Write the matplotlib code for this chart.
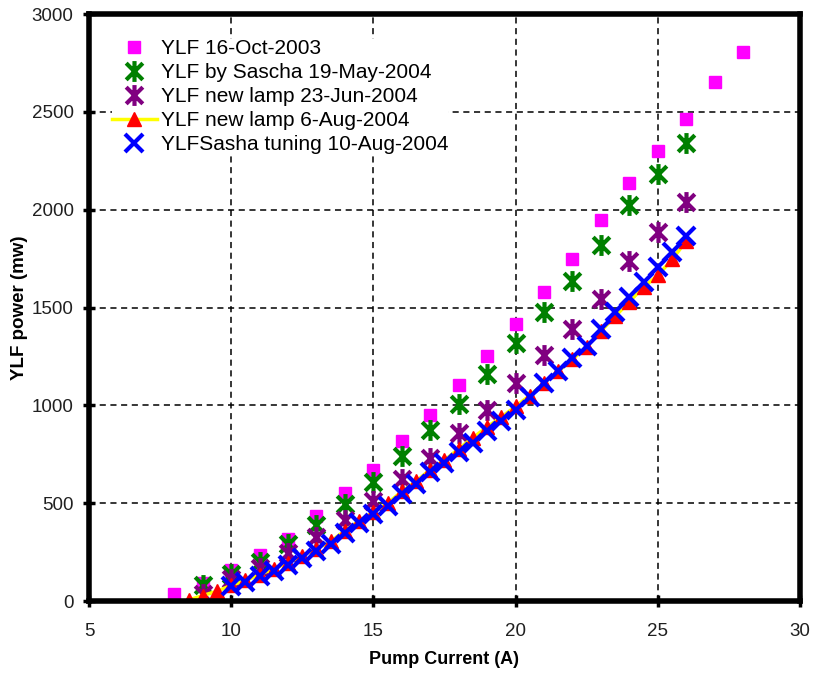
import numpy as np
import matplotlib
matplotlib.use("Agg")
import matplotlib.pyplot as plt
from matplotlib.path import Path

plt.rcParams["font.family"] = ["Liberation Sans", "DejaVu Sans"]

# YLF 16-Oct-2003
x_oct = [8, 9, 10, 11, 12, 13, 14, 15, 16, 17, 18, 19, 20, 21, 22, 23, 24, 25, 26, 27, 28]
p_oct = [35, 92, 158, 235, 318, 432, 552, 672, 819, 952, 1104, 1250, 1418, 1582, 1746, 1946,
         2135, 2299, 2463, 2652, 2806]

# YLF by Sascha 19-May-2004
x_may = [9, 10, 11, 12, 13, 14, 15, 16, 17, 18, 19, 20, 21, 22, 23, 24, 25, 26]
p_may = [80, 138, 200, 292, 386, 494, 610, 742, 873, 1006, 1162, 1317, 1476, 1638, 1818,
         2022, 2181, 2343]

# YLF new lamp 23-Jun-2004
x_jun = [9, 10, 11, 12, 13, 14, 15, 16, 17, 18, 19, 20, 21, 22, 23, 24, 25, 26]
p_jun = [37, 110, 170, 247, 328, 414, 512, 622, 730, 858, 978, 1115, 1258, 1393, 1546,
         1737, 1884, 2040]

# YLF new lamp 6-Aug-2004
x_aug6 = [8.5, 9, 9.5, 10, 10.5, 11, 11.5, 12, 12.5, 13, 13.5, 14, 14.5, 15, 15.5, 16, 16.5,
          17, 17.5, 18, 18.5, 19, 19.5, 20, 20.5, 21, 21.5, 22, 22.5, 23, 23.5, 24, 24.5,
          25, 25.5, 26]
p_aug6 = [5, 28, 50, 80, 105, 135, 165, 195, 232, 268, 305, 360, 410, 455, 500, 560, 612,
          672, 720, 778, 835, 890, 940, 995, 1050, 1115, 1175, 1235, 1300, 1380, 1455, 1530,
          1605, 1664, 1746, 1840]

# YLFSasha tuning 10-Aug-2004
x_aug10 = [10, 10.5, 11, 11.5, 12, 12.5, 13, 13.5, 14, 14.5, 15, 15.5, 16, 16.5, 17, 17.5,
           18, 18.5, 19, 19.5, 20, 20.5, 21, 21.5, 22, 22.5, 23, 23.5, 24, 24.5, 25, 25.5, 26]
p_aug10 = [77, 96, 128, 154, 184, 222, 256, 291, 350, 398, 445, 486, 547, 598, 660, 705,
           762, 810, 870, 922, 976, 1041, 1115, 1178, 1240, 1306, 1393, 1476, 1553, 1630,
           1710, 1783, 1865]

# excel style asterisk: an X with a vertical bar through it
d = 0.8
ast = Path([(0, -1), (0, 1), (-d, -d), (d, d), (-d, d), (d, -d)],
           [Path.MOVETO, Path.LINETO, Path.MOVETO, Path.LINETO, Path.MOVETO, Path.LINETO])

fig = plt.figure(figsize=(8.14, 6.74), dpi=100)
ax = fig.add_axes([0.1093, 0.1083, 0.8735, 0.8707])

ax.plot(x_oct, p_oct, ls="none", marker="s", ms=8, color="#ff00ff",
        label="YLF 16-Oct-2003")
ax.plot(x_may, p_may, ls="none", marker=ast, ms=15, mew=3, color="#008000",
        label="YLF by Sascha 19-May-2004")
ax.plot(x_jun, p_jun, ls="none", marker=ast, ms=15, mew=3, color="#800080",
        label="YLF new lamp 23-Jun-2004")
ax.plot(x_aug6, p_aug6, ls="-", lw=2.5, color="#ffff00", marker="^", ms=9.5,
        mfc="#ff0000", mec="#ff0000", label="YLF new lamp 6-Aug-2004")
ax.plot(x_aug10, p_aug10, ls="none", marker="x", ms=13, mew=3, color="#0000ff",
        label="YLFSasha tuning 10-Aug-2004")

ax.set_xlim(5, 30)
ax.set_ylim(0, 3000)
ax.set_xticks([5, 10, 15, 20, 25, 30])
ax.set_yticks([0, 500, 1000, 1500, 2000, 2500, 3000])
ax.grid(True, color="black", ls=(0, (4, 3)), lw=1.1)
ax.set_axisbelow(True)

for s in ax.spines.values():
    s.set_linewidth(4)
ax.tick_params(direction="inout", length=8, width=2.5, labelsize=13.5,
               labelcolor="#202020")
ax.tick_params(axis="x", pad=12)
ax.tick_params(axis="y", pad=7)

ax.set_xlabel("Pump Current (A)", fontsize=13, fontweight="bold", labelpad=8)
ax.set_ylabel("YLF power (mw)", fontsize=13.5, fontweight="bold", labelpad=3)

leg = ax.legend(loc="upper left", bbox_to_anchor=(0.032, 0.957), frameon=True,
                fontsize=15, borderpad=0, borderaxespad=0, labelspacing=0.24,
                handletextpad=0.2, handlelength=2.15, fancybox=False)
leg.get_frame().set_facecolor("white")
leg.get_frame().set_edgecolor("none")
leg.get_frame().set_alpha(1)

fig.savefig("out.png", dpi=100)
